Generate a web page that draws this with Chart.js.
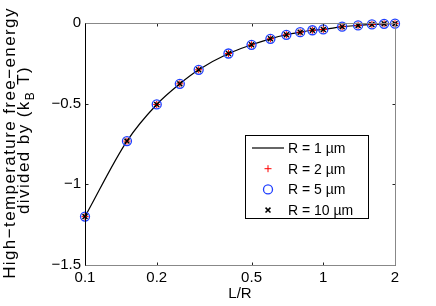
<!DOCTYPE html>
<html>
<head>
<meta charset="utf-8">
<script src="https://cdn.jsdelivr.net/npm/chart.js@4.4.1/dist/chart.umd.min.js"></script>
<style>
  html, body { margin: 0; padding: 0; background: #fff; }
  canvas { display: block; }
</style>
</head>
<body>
<canvas id="chart" width="436" height="306"></canvas>
<script>
// L/R values where the free energy was evaluated
const lOverR = [0.1, 0.15, 0.2, 0.25, 0.3, 0.4, 0.5, 0.6, 0.7, 0.8, 0.9, 1, 1.2, 1.4, 1.6, 1.8, 2];

// high-temperature free energy / (kB T), one array per radius
const energyR1 = [-1.20, -0.732, -0.505, -0.377, -0.290, -0.189, -0.135, -0.098, -0.073, -0.057, -0.045, -0.040, -0.023, -0.015, -0.009, -0.005, -0.004];
const energyR2 = [-1.20, -0.732, -0.505, -0.377, -0.290, -0.189, -0.135, -0.098, -0.073, -0.057, -0.045, -0.040, -0.023, -0.015, -0.009, -0.005, -0.004];
const energyR5 = [-1.20, -0.732, -0.505, -0.377, -0.290, -0.189, -0.135, -0.098, -0.073, -0.057, -0.045, -0.040, -0.023, -0.015, -0.009, -0.005, -0.004];
const energyR10 = [-1.20, -0.732, -0.505, -0.377, -0.290, -0.189, -0.135, -0.098, -0.073, -0.057, -0.045, -0.040, -0.023, -0.015, -0.009, -0.005, -0.004];

const seriesLabels = ['R = 1 \u00b5m', 'R = 2 \u00b5m', 'R = 5 \u00b5m', 'R = 10 \u00b5m'];
const xTicks = [0.1, 0.2, 0.5, 1, 2];
const yTicks = [0, -0.5, -1, -1.5];

const FONT = '"Liberation Sans", Arial, Helvetica, sans-serif';
const toPoints = ys => lOverR.map((x, i) => ({ x: x, y: ys[i] }));
const fmt = v => (v < 0 ? '\u2212' : '') + String(Math.abs(v));

// box, inward ticks, y title with subscript, legend
const matlabAxes = {
  id: 'matlabAxes',
  afterDraw(chart) {
    const ctx = chart.ctx;
    const a = chart.chartArea;
    const xs = chart.scales.x, ys = chart.scales.y;
    const L = Math.round(a.left) + 0.5, R = Math.round(a.right) + 0.5;
    const T = Math.round(a.top) + 0.5, B = Math.round(a.bottom) + 0.5;
    ctx.save();
    ctx.lineWidth = 1;

    // ticks
    ctx.strokeStyle = '#222';
    ctx.beginPath();
    xTicks.forEach(v => {
      const px = Math.round(xs.getPixelForValue(v)) + 0.5;
      ctx.moveTo(px, B); ctx.lineTo(px, B - 3);
      ctx.moveTo(px, T); ctx.lineTo(px, T + 3);
    });
    yTicks.forEach(v => {
      const py = Math.round(ys.getPixelForValue(v)) + 0.5;
      ctx.moveTo(L, py); ctx.lineTo(L + 3, py);
      ctx.moveTo(R, py); ctx.lineTo(R - 3, py);
    });
    ctx.stroke();

    // frame
    ctx.strokeStyle = '#888';
    ctx.beginPath();
    ctx.moveTo(L, B); ctx.lineTo(R, B); ctx.lineTo(R, T); ctx.lineTo(L, T);
    ctx.stroke();
    ctx.strokeStyle = '#000';
    ctx.beginPath();
    ctx.moveTo(L, T); ctx.lineTo(L, B);
    ctx.stroke();

    // y axis title, two lines, second one with k_B
    const cy = (a.top + a.bottom) / 2;
    ctx.fillStyle = '#000';
    ctx.textBaseline = 'alphabetic';
    ctx.letterSpacing = '1.4px';
    ctx.save();
    ctx.translate(15, cy - 1);
    ctx.rotate(-Math.PI / 2);
    ctx.font = '17px ' + FONT;
    ctx.textAlign = 'center';
    ctx.fillText('High\u2212temperature free\u2212energy', 0, 0);
    ctx.restore();

    ctx.save();
    ctx.translate(29, cy - 4);
    ctx.rotate(-Math.PI / 2);
    ctx.textAlign = 'left';
    const p1 = 'divided by (k', p2 = 'B', p3 = ' T)';
    ctx.font = '17px ' + FONT;
    const w1 = ctx.measureText(p1).width, w3 = ctx.measureText(p3).width;
    ctx.font = '12px ' + FONT;
    const w2 = ctx.measureText(p2).width;
    let x0 = -(w1 + w2 + w3) / 2;
    ctx.font = '17px ' + FONT;
    ctx.fillText(p1, x0, 0);
    ctx.font = '12px ' + FONT;
    ctx.fillText(p2, x0 + w1, 5);
    ctx.font = '17px ' + FONT;
    ctx.fillText(p3, x0 + w1 + w2, 0);
    ctx.restore();
    ctx.letterSpacing = '0px';

    // legend
    const bx = 245.5, by = 135.5, bw = 123, bh = 83;
    ctx.fillStyle = '#fff';
    ctx.fillRect(bx, by, bw, bh);
    ctx.strokeStyle = '#000';
    ctx.strokeRect(bx, by, bw, bh);
    ctx.font = '14px ' + FONT;
    ctx.textAlign = 'left';
    ctx.textBaseline = 'middle';
    chart.data.datasets.forEach((ds, i) => {
      const ry = 148 + i * 20.7;
      const mx = 268;
      ctx.strokeStyle = ds.borderColor;
      ctx.lineWidth = ds.borderWidth;
      ctx.beginPath();
      if (ds.showLine) {
        ctx.moveTo(252, ry); ctx.lineTo(284, ry);
      } else if (ds.pointStyle === 'circle') {
        ctx.arc(mx, ry, ds.pointRadius, 0, Math.PI * 2);
      } else if (ds.pointStyle === 'cross') {
        const r = ds.pointRadius;
        ctx.moveTo(mx - r, ry); ctx.lineTo(mx + r, ry);
        ctx.moveTo(mx, ry - r); ctx.lineTo(mx, ry + r);
      } else {
        const r = ds.pointRadius * 0.707;
        ctx.moveTo(mx - r, ry - r); ctx.lineTo(mx + r, ry + r);
        ctx.moveTo(mx - r, ry + r); ctx.lineTo(mx + r, ry - r);
      }
      ctx.stroke();
      ctx.fillStyle = '#000';
      ctx.fillText(ds.label, 288, ry + 1);
    });
    ctx.restore();
  }
};

new Chart(document.getElementById('chart'), {
  type: 'scatter',
  data: {
    datasets: [
      {
        label: seriesLabels[0],
        data: toPoints(energyR1),
        showLine: true,
        borderColor: '#000',
        borderWidth: 1.2,
        pointRadius: 0,
        cubicInterpolationMode: 'monotone',
        order: 4
      },
      {
        label: seriesLabels[1],
        data: toPoints(energyR2),
        borderColor: '#ff0000',
        backgroundColor: '#ff0000',
        borderWidth: 1,
        pointStyle: 'cross',
        pointRadius: 3.5,
        clip: false,
        order: 2
      },
      {
        label: seriesLabels[2],
        data: toPoints(energyR5),
        borderColor: '#1f3fff',
        backgroundColor: 'rgba(0,0,0,0)',
        borderWidth: 1.3,
        pointStyle: 'circle',
        pointRadius: 4.5,
        clip: false,
        order: 3
      },
      {
        label: seriesLabels[3],
        data: toPoints(energyR10),
        borderColor: '#000',
        backgroundColor: '#000',
        borderWidth: 1.5,
        pointStyle: 'crossRot',
        pointRadius: 3.5,
        clip: false,
        order: 1
      }
    ]
  },
  options: {
    responsive: false,
    animation: false,
    events: [],
    layout: { padding: { top: 23, right: 41, left: 0, bottom: 0 } },
    plugins: {
      legend: { display: false },
      tooltip: { enabled: false }
    },
    scales: {
      x: {
        type: 'logarithmic',
        min: 0.1,
        max: 2,
        grid: { display: false, drawTicks: false },
        border: { display: false },
        afterBuildTicks: s => { s.ticks = xTicks.map(v => ({ value: v })); },
        afterFit: s => { s.height = 41; },
        ticks: {
          autoSkip: false,
          maxRotation: 0,
          padding: 4,
          color: '#000',
          font: { family: FONT, size: 15 },
          callback: v => String(v)
        },
        title: {
          display: true,
          text: 'L/R',
          color: '#000',
          font: { family: FONT, size: 15 },
          padding: { top: 0, bottom: 3 }
        }
      },
      y: {
        type: 'linear',
        min: -1.5,
        max: 0,
        grid: { display: false, drawTicks: false },
        border: { display: false },
        afterBuildTicks: s => { s.ticks = yTicks.map(v => ({ value: v })); },
        afterFit: s => { s.width = 85; },
        ticks: {
          padding: 4,
          color: '#000',
          font: { family: FONT, size: 15 },
          callback: v => fmt(v)
        }
      }
    }
  },
  plugins: [matlabAxes]
});
</script>
</body>
</html>
